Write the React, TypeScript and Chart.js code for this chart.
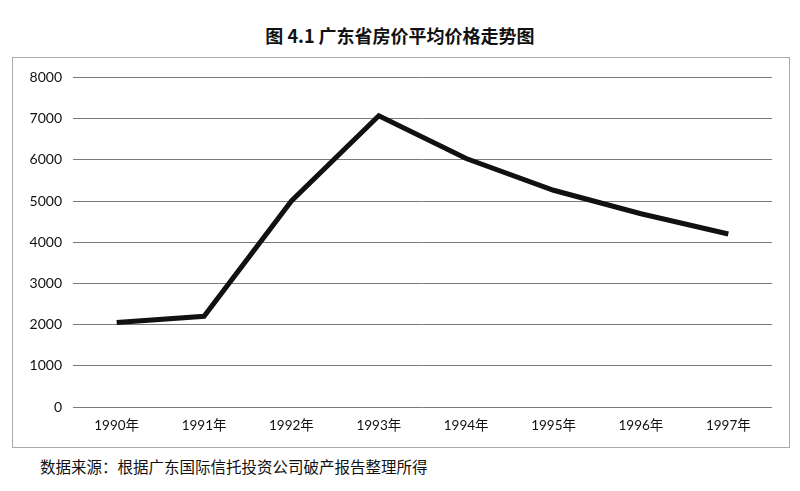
import React, { useEffect, useRef } from "react";
import { Chart, registerables } from "chart.js";

Chart.register(...registerables);

const TITLE = "图 4.1 广东省房价平均价格走势图";
const SOURCE = "数据来源：根据广东国际信托投资公司破产报告整理所得";
const years = ["1990年", "1991年", "1992年", "1993年", "1994年", "1995年", "1996年", "1997年"];
const prices = [2050, 2200, 5000, 7070, 6030, 5260, 4690, 4200];
const yTicks = [0, 1000, 2000, 3000, 4000, 5000, 6000, 7000, 8000];

const FONT = "Lato, 'Noto Sans CJK SC', sans-serif";

export default function App() {
  const ref = useRef<HTMLCanvasElement | null>(null);

  useEffect(() => {
    if (!ref.current) return;
    const chart = new Chart(ref.current, {
      type: "line",
      data: {
        labels: years,
        datasets: [
          {
            data: prices,
            borderColor: "#111",
            borderWidth: 5,
            pointRadius: 0,
            tension: 0,
            fill: false,
          },
        ],
      },
      options: {
        animation: false,
        responsive: false,
        maintainAspectRatio: false,
        layout: { padding: { top: 18, right: 17, left: 0, bottom: 0 } },
        plugins: { legend: { display: false }, tooltip: { enabled: false }, title: { display: false } },
        scales: {
          x: {
            type: "category",
            offset: true,
            grid: { display: false, drawTicks: false },
            border: { display: false },
            ticks: { color: "#111", font: { family: FONT, size: 13.5 }, padding: 11, maxRotation: 0 },
            afterFit: (s: any) => {
              s.height = 40;
            },
          },
          y: {
            min: 0,
            max: 8000,
            afterBuildTicks: (s: any) => {
              s.ticks = yTicks.map((v) => ({ value: v }));
            },
            grid: { color: "#7a7a7a", lineWidth: 1, drawTicks: false },
            border: { display: false },
            ticks: {
              color: "#111",
              font: { family: FONT, size: 14 },
              padding: 11,
              callback: (v: any) => String(v),
            },
            afterFit: (s: any) => {
              s.width = 60;
            },
          },
        },
      },
    });
    return () => chart.destroy();
  }, []);

  return (
    <div style={{ position: "absolute", left: 0, top: 0, width: 800, height: 491, background: "#fff" }}>
      <div
        style={{
          position: "absolute",
          left: 0,
          width: 800,
          top: 23,
          textAlign: "center",
          fontFamily: "'Noto Sans CJK SC', sans-serif",
          fontWeight: 700,
          fontSize: 18,
          lineHeight: "24px",
          color: "#111",
        }}
      >
        {TITLE}
      </div>
      <div
        style={{
          position: "absolute",
          left: 12,
          top: 57,
          width: 778,
          height: 391,
          border: "1px solid #aaa",
          boxSizing: "border-box",
        }}
      >
        <canvas ref={ref} width={776} height={389} style={{ display: "block" }} />
      </div>
      <div
        style={{
          position: "absolute",
          left: 40,
          top: 456,
          fontFamily: "'Noto Sans CJK SC', sans-serif",
          fontSize: 15.5,
          lineHeight: "20px",
          color: "#111",
          whiteSpace: "nowrap",
        }}
      >
        {SOURCE}
      </div>
    </div>
  );
}
